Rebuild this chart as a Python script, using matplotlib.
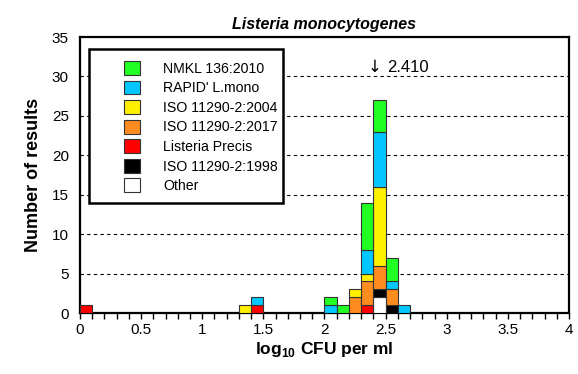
import matplotlib
matplotlib.use("Agg")
import matplotlib.pyplot as plt
from matplotlib.patches import Rectangle
import numpy as np

plt.rcParams["font.family"] = ["Liberation Sans", "DejaVu Sans"]
plt.rcParams["mathtext.fontset"] = "custom"
plt.rcParams["mathtext.bf"] = "Liberation Sans:bold"
plt.rcParams["mathtext.rm"] = "Liberation Sans"

# bins of log10 CFU (left edges, width 0.1)
bin_left = [0.0, 1.3, 1.4, 2.0, 2.1, 2.2, 2.3, 2.4, 2.5, 2.6]
bin_width = 0.1

# counts per method, stacked bottom -> top
other = [0, 0, 0, 0, 0, 0, 0, 2, 0, 0]
iso_1998 = [0, 0, 0, 0, 0, 0, 0, 1, 1, 0]
precis = [1, 0, 1, 0, 0, 0, 1, 0, 0, 0]
iso_2017 = [0, 0, 0, 0, 0, 2, 3, 3, 2, 0]
iso_2004 = [0, 1, 0, 0, 0, 1, 1, 10, 0, 0]
rapid = [0, 0, 1, 1, 0, 0, 3, 7, 1, 1]
nmkl = [0, 0, 0, 1, 1, 0, 6, 4, 3, 0]

series = [
    ("Other", other, "white"),
    ("ISO 11290-2:1998", iso_1998, "black"),
    ("Listeria Precis", precis, "#ff0000"),
    ("ISO 11290-2:2017", iso_2017, "#ff8c1e"),
    ("ISO 11290-2:2004", iso_2004, "#fff000"),
    ("RAPID' L.mono", rapid, "#00c8ff"),
    ("NMKL 136:2010", nmkl, "#22ff22"),
]

xticks = [0, 0.5, 1, 1.5, 2, 2.5, 3, 3.5, 4]
xtick_labels = ["0", "0.5", "1", "1.5", "2", "2.5", "3", "3.5", "4"]
yticks = [0, 5, 10, 15, 20, 25, 30, 35]

assigned = 2.410

fig = plt.figure(figsize=(5.78, 3.74), dpi=100)
ax = fig.add_axes([0.1384, 0.1631, 0.8460, 0.7379])

bottom = np.zeros(len(bin_left))
handles = []
for name, vals, col in series:
    vals = np.array(vals)
    mask = vals > 0
    b = ax.bar(np.array(bin_left)[mask], vals[mask], width=bin_width, bottom=bottom[mask],
               align="edge", color=col, edgecolor="#333333", linewidth=0.8, zorder=5, label=name)
    handles.append(b)
    bottom += vals

for y in yticks[1:-1]:
    ax.axhline(y, color="black", linestyle=(0, (3, 3)), linewidth=0.8, zorder=1)

ax.set_xlim(0, 4)
ax.set_ylim(0, 35)
ax.set_xticks(xticks)
ax.set_xticklabels(xtick_labels)
ax.set_xticks(np.arange(0, 4.01, 0.1), minor=True)
ax.set_yticks(yticks)
ax.tick_params(axis="x", which="both", direction="out", length=4, width=1, labelsize=11, pad=3)
ax.tick_params(axis="y", length=0, labelsize=11, pad=8)
for s in ax.spines.values():
    s.set_linewidth(1.6)

ax.set_title("Listeria monocytogenes", fontsize=11.5, fontweight="bold", style="italic", pad=6)
ax.set_xlabel("log$_{\\mathbf{10}}$ CFU per ml", fontsize=12.5, fontweight="bold", labelpad=2)
ax.set_ylabel("Number of results", fontsize=13, fontweight="bold", labelpad=7)

# assigned value marker
ax.text(assigned, 30.55, "\u2193", fontsize=12, ha="center", va="baseline",
        zorder=6, family=["DejaVu Sans"])
ax.text(assigned + 0.1, 30.55, "2.410", fontsize=12, ha="left", va="baseline", zorder=6)

# legend box
ax.add_patch(Rectangle((0.018, 0.399), 0.397, 0.558, transform=ax.transAxes,
                       facecolor="white", edgecolor="black", linewidth=1.8, zorder=3))
leg = ax.legend(handles=handles[::-1], loc="upper left", bbox_to_anchor=(0.09, 0.913),
                frameon=False, fontsize=10.2, handlelength=1.13, handleheight=1.13,
                labelspacing=0.34, handletextpad=1.62, borderpad=0, borderaxespad=0)
leg.set_zorder(4)

fig.savefig("out.png", dpi=100)
